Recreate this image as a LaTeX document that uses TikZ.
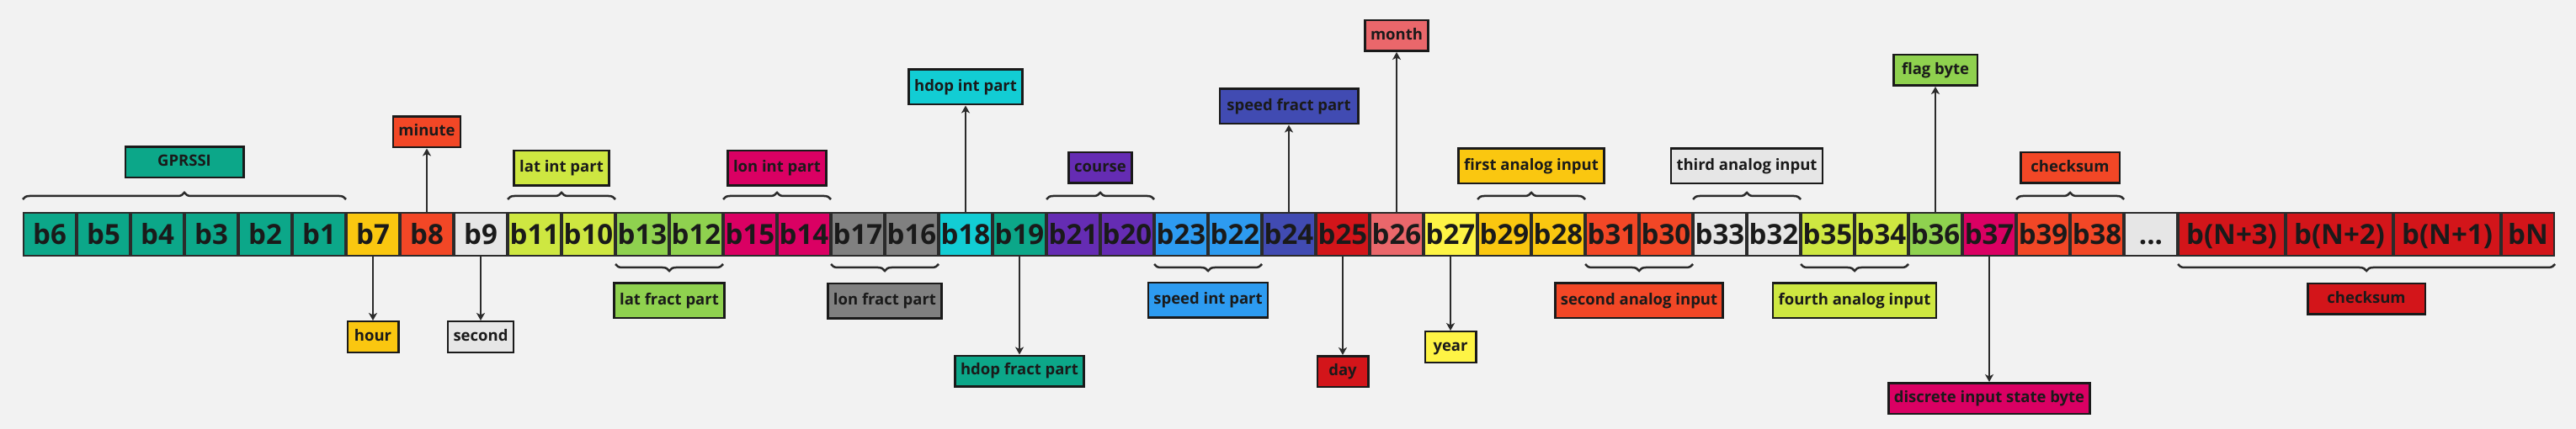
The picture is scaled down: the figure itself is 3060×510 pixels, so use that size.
\documentclass[tikz,border=0pt]{standalone}
\usepackage{fontspec}
\setmainfont{Open Sans}
\usetikzlibrary{positioning, arrows.meta, decorations.pathreplacing}

\definecolor{bgGray}{HTML}{F2F2F2}
\definecolor{ink}{HTML}{1A1A1A}
\definecolor{rim}{HTML}{2B2B2B}
\definecolor{mTeal}{HTML}{0CA789}
\definecolor{mAmber}{HTML}{FAC710}
\definecolor{mOrange}{HTML}{F24726}
\definecolor{mSilver}{HTML}{E6E6E6}
\definecolor{mLime}{HTML}{CEE741}
\definecolor{mGreen}{HTML}{8FD14F}
\definecolor{mMagenta}{HTML}{DA0063}
\definecolor{mGray}{HTML}{808080}
\definecolor{mCyan}{HTML}{12CDD4}
\definecolor{mPurple}{HTML}{652CB3}
\definecolor{mBlue}{HTML}{2D9BF0}
\definecolor{mNavy}{HTML}{414BB2}
\definecolor{mRed}{HTML}{D3151A}
\definecolor{mSalmon}{HTML}{EA676B}
\definecolor{mYellow}{HTML}{FEF445}

\begin{document}
\begin{tikzpicture}[
        x=1pt, y=-1pt,
        byteCell/.style={draw=rim, line width=2.2pt, minimum width=61.8pt, minimum height=50.8pt, inner sep=0pt, text=ink, text height=25pt, text depth=0pt, font=\fontsize{33pt}{33pt}\selectfont\bfseries},
        wideCell/.style={minimum width=125.8pt},
        labelBox/.style={draw=ink, line width=2.5pt, minimum width=60.5pt, minimum height=36.5pt, inner xsep=6.5pt, inner ysep=0pt, text=ink, text height=14pt, text depth=4pt, font=\fontsize{18.5pt}{18.5pt}\selectfont\bfseries},
        labelTall/.style={minimum height=41.5pt},
        braceTop/.style={draw=rim, line width=2.5pt, decorate, decoration={brace, amplitude=8pt, raise=15pt}},
        braceBot/.style={draw=rim, line width=2.5pt, decorate, decoration={brace, mirror, amplitude=8pt, raise=9pt}},
        linkArrow/.style={draw=rim, line width=2.5pt, -{Stealth[length=9pt, width=10pt, inset=2.5pt]}}
        ]
        \fill[bgGray] (0,0) rectangle (3060,510);

        % a fila de bytes
        \foreach \txt/\col [count=\i] in {b6/mTeal, b5/mTeal, b4/mTeal, b3/mTeal, b2/mTeal, b1/mTeal, b7/mAmber, b8/mOrange, b9/mSilver, b11/mLime, b10/mLime, b13/mGreen, b12/mGreen, b15/mMagenta, b14/mMagenta, b17/mGray, b16/mGray, b18/mCyan, b19/mTeal, b21/mPurple, b20/mPurple, b23/mBlue, b22/mBlue, b24/mNavy, b25/mRed, b26/mSalmon, b27/mYellow, b29/mAmber, b28/mAmber, b31/mOrange, b30/mOrange, b33/mSilver, b32/mSilver, b35/mLime, b34/mLime, b36/mGreen, b37/mMagenta, b39/mOrange, b38/mOrange}
          \node[byteCell, fill=\col] (c\i) at (64*\i-5, 278.5) {\txt};
        \node[byteCell, fill=mSilver, right=0pt of c39] (c40) {...};
        \node[byteCell, wideCell, fill=mRed, right=0pt of c40] (c41) {b(N+3)};
        \node[byteCell, wideCell, fill=mRed, right=0pt of c41] (c42) {b(N+2)};
        \node[byteCell, wideCell, fill=mRed, right=0pt of c42] (c43) {b(N+1)};
        \node[byteCell, fill=mRed, right=0pt of c43] (c44) {bN};

        \node[labelBox, fill=mTeal, minimum width=140.5pt] (gprssi) at (219,193) {GPRSSI};
        \node[labelBox, fill=mLime, labelTall] (latInt) at (667,200) {lat int part};
        \node[labelBox, fill=mMagenta, labelTall] (lonInt) at (923,200) {lon int part};
        \node[labelBox, fill=mPurple] (course) at (1307,199.5) {course};
        \node[labelBox, fill=mAmber, labelTall] (analogA) at (1819,197.5) {first analog input};
        \node[labelBox, fill=mSilver, labelTall] (analogC) at (2075,197.5) {third analog input};
        \node[labelBox, fill=mOrange, minimum width=117.5pt] (sumTop) at (2459,199.5) {checksum};

        \node[labelBox, fill=mGreen, labelTall] (latFract) at (795,357.5) {lat fract part};
        \node[labelBox, fill=mGray, labelTall] (lonFract) at (1051,358) {lon fract part};
        \node[labelBox, fill=mBlue, labelTall] (speedInt) at (1435,357) {speed int part};
        \node[labelBox, fill=mOrange, labelTall] (analogB) at (1947,357.5) {second analog input};
        \node[labelBox, fill=mLime, labelTall] (analogD) at (2203,357.5) {fourth analog input};
        \node[labelBox, fill=mRed, minimum width=139.5pt] (sumBot) at (2811,355.5) {checksum};

        \node[labelBox, fill=mAmber] (hour) at (443,400.5) {hour};
        \node[labelBox, fill=mOrange] (minute) at (507,157) {minute};
        \node[labelBox, fill=mSilver] (second) at (571,400.5) {second};
        \node[labelBox, fill=mCyan, labelTall] (hdopInt) at (1147,103.5) {hdop int part};
        \node[labelBox, fill=mTeal] (hdopFract) at (1211,441) {hdop fract part};
        \node[labelBox, fill=mNavy, labelTall, minimum width=164.5pt] (speedFract) at (1531,126.5) {speed fract part};
        \node[labelBox, fill=mRed] (day) at (1595,441.5) {day};
        \node[labelBox, fill=mSalmon] (month) at (1659,42.5) {month};
        \node[labelBox, fill=mYellow] (year) at (1723,412.5) {year};
        \node[labelBox, fill=mGreen, minimum width=99.5pt] (flag) at (2299,83.5) {flag byte};
        \node[labelBox, fill=mMagenta] (discrete) at (2363,473.5) {discrete input state byte};

        \draw[braceTop] (c1.north west) -- (c6.north east);
        \draw[braceTop] (c10.north west) -- (c11.north east);
        \draw[braceTop] (c14.north west) -- (c15.north east);
        \draw[braceTop] (c20.north west) -- (c21.north east);
        \draw[braceTop] (c28.north west) -- (c29.north east);
        \draw[braceTop] (c32.north west) -- (c33.north east);
        \draw[braceTop] (c38.north west) -- (c39.north east);

        \draw[braceBot] (c12.south west) -- (c13.south east);
        \draw[braceBot] (c16.south west) -- (c17.south east);
        \draw[braceBot] (c22.south west) -- (c23.south east);
        \draw[braceBot] (c30.south west) -- (c31.south east);
        \draw[braceBot] (c34.south west) -- (c35.south east);
        \draw[braceBot] (c41.south west) -- (c44.south east);

        \draw[linkArrow] (c7) -- (hour);
        \draw[linkArrow] (c8) -- (minute);
        \draw[linkArrow] (c9) -- (second);
        \draw[linkArrow] (c18) -- (hdopInt);
        \draw[linkArrow] (c19) -- (hdopFract);
        \draw[linkArrow] (c24) -- (speedFract);
        \draw[linkArrow] (c25) -- (day);
        \draw[linkArrow] (c26) -- (month);
        \draw[linkArrow] (c27) -- (year);
        \draw[linkArrow] (c36) -- (flag);
        \draw[linkArrow] (c37) -- (discrete);
\end{tikzpicture}
\end{document}
